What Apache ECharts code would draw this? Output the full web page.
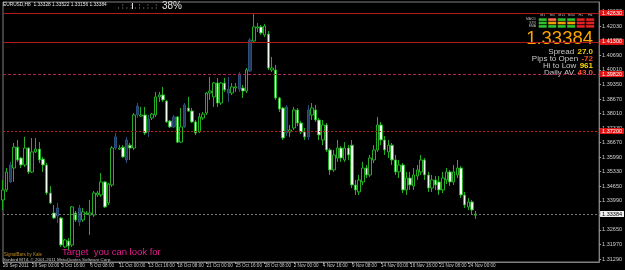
<!DOCTYPE html>
<html><head><meta charset="utf-8">
<script src="https://cdn.jsdelivr.net/npm/echarts@6/dist/echarts.min.js"></script>
<style>html,body{margin:0;padding:0;background:#000;}#c{width:625px;height:270px;}</style>
</head><body><div id="c"></div>
<script>
// ---- data (EURUSD, H8) ----
const tickLabels = ["26 Sep 2011","29 Sep 00:00","3 Oct 16:00","6 Oct 08:00","11 Oct 00:00","13 Oct 16:00","18 Oct 08:00","21 Oct 00:00","25 Oct 16:00","28 Oct 08:00","2 Nov 00:00","4 Nov 16:00","9 Nov 08:00","14 Nov 00:00","16 Nov 16:00","21 Nov 08:00","24 Nov 00:00"];
const opens = [
1.3403,1.3449,1.3486,1.3550,1.3646,1.3596,1.3564,1.3642,1.3532,1.3624,
1.3637,1.3591,1.3564,1.3435,1.3343,1.3329,1.3320,1.3187,1.3214,1.3196,
1.3343,1.3302,1.3311,1.3338,1.3334,1.3334,1.3426,1.3426,1.3486,1.3389,
1.3472,1.3642,1.3637,1.3646,1.3587,1.3655,1.3642,1.3794,1.3789,1.3794,
1.3716,1.3780,1.3794,1.3877,1.3886,1.3858,1.3766,1.3739,1.3785,1.3669,
1.3739,1.3826,1.3812,1.3762,1.3716,1.3780,1.3803,1.3895,1.3877,1.3941,
1.3849,1.3941,1.3913,1.3895,1.3918,1.3913,1.3918,1.3904,1.3996,1.4134,
1.4194,1.4199,1.4162,1.4166,1.4001,1.4001,1.3872,1.3826,1.3711,1.3716,
1.3734,1.3817,1.3757,1.3716,1.3693,1.3794,1.3817,1.3771,1.3679,1.3748,
1.3633,1.3541,1.3596,1.3642,1.3587,1.3642,1.3655,1.3472,1.3440,1.3486,
1.3550,1.3518,1.3587,1.3633,1.3748,1.3679,1.3624,1.3655,1.3587,1.3532,
1.3564,1.3449,1.3504,1.3467,1.3513,1.3532,1.3587,1.3518,1.3458,1.3495,
1.3486,1.3449,1.3495,1.3532,1.3486,1.3518,1.3550,1.3426,1.3371,1.3394,
1.33328];
const closes = [
1.3449,1.3532,1.3564,1.3646,1.3587,1.3564,1.3642,1.3532,1.3624,1.3637,
1.3587,1.3564,1.3435,1.3389,1.3320,1.3366,1.3196,1.3219,1.3191,1.3371,
1.3311,1.3366,1.3348,1.3343,1.3343,1.3435,1.3435,1.3486,1.3371,1.3476,
1.3642,1.3693,1.3642,1.3601,1.3679,1.3642,1.3794,1.3835,1.3794,1.3711,
1.3775,1.3798,1.3877,1.3886,1.3863,1.3762,1.3739,1.3785,1.3669,1.3739,
1.3840,1.3812,1.3762,1.3711,1.3785,1.3798,1.3895,1.3904,1.3941,1.3849,
1.3941,1.3909,1.3895,1.3923,1.3923,1.3982,1.3904,1.4001,1.4139,1.4199,
1.4199,1.4171,1.4203,1.4010,1.4010,1.3872,1.3821,1.3688,1.3831,1.3725,
1.3817,1.3757,1.3716,1.3693,1.3817,1.3826,1.3771,1.3702,1.3748,1.3633,
1.3541,1.3610,1.3642,1.3596,1.3642,1.3610,1.3472,1.3449,1.3495,1.3550,
1.3518,1.3596,1.3633,1.3748,1.3679,1.3633,1.3655,1.3587,1.3532,1.3564,
1.3449,1.3504,1.3472,1.3518,1.3541,1.3587,1.3518,1.3458,1.3495,1.3472,
1.3449,1.3504,1.3532,1.3486,1.3532,1.3550,1.3426,1.3380,1.3394,1.3357,
1.33384];
const highs = [
1.3495,1.3550,1.3578,1.3665,1.3679,1.3601,1.3693,1.3646,1.3688,1.3688,
1.3669,1.3601,1.3573,1.3467,1.3380,1.3389,1.3325,1.3224,1.3228,1.3375,
1.3352,1.3380,1.3366,1.3352,1.3403,1.3444,1.3444,1.3527,1.3490,1.3481,
1.3651,1.3711,1.3655,1.3655,1.3693,1.3665,1.3803,1.3849,1.3831,1.3831,
1.3794,1.3803,1.3900,1.3900,1.3923,1.3863,1.3771,1.3794,1.3789,1.3826,
1.3849,1.3877,1.3826,1.3771,1.3803,1.3808,1.3900,1.3969,1.3946,1.3964,
1.3946,1.3964,1.3969,1.3941,1.3941,1.3992,1.3932,1.4010,1.4148,1.4258,
1.4217,1.4208,1.4213,1.4180,1.4061,1.4024,1.3877,1.3831,1.3840,1.3748,
1.3831,1.3826,1.3766,1.3734,1.3840,1.3849,1.3840,1.3780,1.3771,1.3757,
1.3642,1.3633,1.3679,1.3651,1.3669,1.3655,1.3679,1.3495,1.3518,1.3578,
1.3564,1.3610,1.3655,1.3785,1.3762,1.3697,1.3679,1.3665,1.3610,1.3587,
1.3573,1.3532,1.3532,1.3550,1.3564,1.3610,1.3596,1.3532,1.3518,1.3513,
1.3513,1.3532,1.3550,1.3541,1.3564,1.3587,1.3559,1.3440,1.3412,1.3403,
1.33522];
const lows = [
1.3357,1.3440,1.3481,1.3486,1.3578,1.3550,1.3555,1.3523,1.3527,1.3619,
1.3573,1.3532,1.3426,1.3384,1.3315,1.3297,1.3187,1.3182,1.3173,1.3187,
1.3302,1.3283,1.3302,1.3334,1.3242,1.3325,1.3417,1.3417,1.3366,1.3380,
1.3463,1.3633,1.3633,1.3596,1.3573,1.3587,1.3633,1.3780,1.3785,1.3702,
1.3693,1.3771,1.3785,1.3854,1.3854,1.3757,1.3734,1.3734,1.3665,1.3665,
1.3734,1.3808,1.3757,1.3702,1.3711,1.3771,1.3794,1.3863,1.3831,1.3831,
1.3840,1.3900,1.3854,1.3886,1.3900,1.3900,1.3872,1.3895,1.3992,1.4125,
1.4176,1.4162,1.4153,1.4001,1.3992,1.3863,1.3808,1.3679,1.3697,1.3693,
1.3725,1.3743,1.3706,1.3679,1.3679,1.3771,1.3762,1.3679,1.3655,1.3624,
1.3518,1.3532,1.3578,1.3578,1.3578,1.3587,1.3458,1.3426,1.3426,1.3472,
1.3504,1.3509,1.3573,1.3624,1.3655,1.3610,1.3596,1.3564,1.3518,1.3504,
1.3435,1.3426,1.3449,1.3449,1.3495,1.3518,1.3495,1.3440,1.3440,1.3449,
1.3426,1.3435,1.3476,1.3467,1.3472,1.3504,1.3412,1.3366,1.3357,1.3338,
1.33156];
const shadedBars = [2,15,21,31,34,37,40,47,50,62,65,68,78,84];
const priceTicks = [1.31290,1.31970,1.32650,1.33330,1.33990,1.34650,1.35330,1.35990,1.36670,1.37330,1.38010,1.38670,1.39350,1.40010,1.40690,1.41350,1.42030,1.42690];
const levels = [1.42630,1.41300,1.39820,1.37200];
const lastPrice = 1.33384;
const totalSlots = 165;

// ---- build ----
const slots = Array.from({length: totalSlots}, (_, i) => String(i));
const shadedSet = new Set(shadedBars);
const candles = opens.map((o, i) => {
  const item = {value: [o, closes[i], lows[i], highs[i]]};
  if (shadedSet.has(i)) item.itemStyle = {color:'#203a60', color0:'#203a60', borderColor:'#2c4f7c', borderColor0:'#2c4f7c'};
  return item;
});
const showTick = (i) => i % 8 === 0 && (i / 8) < tickLabels.length;

const levelStyles = [
  {color:'#b01c1c', type:'solid'},
  {color:'#b01c1c', type:'solid'},
  {color:'#b0205a', type:[3,2]},
  {color:'#c02020', type:[2,2]}
];
const markData = levels.map((v, k) => ({
  yAxis: v,
  lineStyle: {color: levelStyles[k].color, type: levelStyles[k].type, width: 1},
  label: {show:true, position:'end', formatter: v.toFixed(5), backgroundColor:'#e41414', color:'#fff', fontSize:5.5, fontFamily:'Liberation Sans', padding:[0,2], distance:1}
}));
markData.push({
  yAxis: lastPrice,
  lineStyle: {color:'#7a7a7a', type:[2,2], width:1},
  label: {show:true, position:'end', formatter: lastPrice.toFixed(5), backgroundColor:'#f0f0f0', color:'#000', fontSize:5.5, fontFamily:'Liberation Sans', padding:[0,2], distance:1}
});

// panel
const tfNames = ['M1','M5','M15','M30','H1','H4'];
const rowNames = ['MACD','STR','EMA'];
const G='#2fc22f', R='#e42020', S='#ff6a50', O='#f0a000';
const panelColors = [[G,S,G,G,R,R],[G,O,O,O,R,R],[G,G,G,G,R,R]];
const graphics = [];
graphics.push({type:'text', x:3, y:5, style:{text:'EURUSD,H8  1.33328 1.33522 1.33156 1.33384', fill:'#e8e8e8', fontSize:4.8, fontFamily:'Liberation Sans', verticalAlign:'middle'}});
for (let k = 0; k < 10; k++) {
  graphics.push({type:'rect', shape:{x:118 + k*4.2, y:7.5, width:1, height:1}, style:{fill:'#9a9a9a'}});
  if (k % 2 === 1) graphics.push({type:'rect', shape:{x:118 + k*4.2, y:4.5, width:1, height:1}, style:{fill:'#9a9a9a'}});
}
graphics.push({type:'rect', shape:{x:132, y:3, width:1, height:6}, style:{fill:'#dcdcdc'}});
graphics.push({type:'text', x:162, y:6.5, style:{text:'38%', fill:'#e4e4e4', fontSize:10, fontFamily:'Liberation Sans', verticalAlign:'middle'}});
tfNames.forEach((t, c) => {
  graphics.push({type:'text', x:542.7 + c*9.5, y:15, style:{text:t, fill:'#bdbdbd', fontSize:3.6, fontFamily:'Liberation Sans', align:'center', verticalAlign:'middle'}});
});
rowNames.forEach((t, r) => {
  graphics.push({type:'text', x:536, y:19.5 + r*3.4, style:{text:t, fill:'#bdbdbd', fontSize:3.4, fontFamily:'Liberation Sans', align:'right', verticalAlign:'middle'}});
  panelColors[r].forEach((col, c) => {
    graphics.push({type:'rect', shape:{x:538.7 + c*9.5, y:18.3 + r*3.4, width:8, height:2.6}, style:{fill:col}});
  });
});
graphics.push({type:'text', x:593, y:39, style:{text:'1.33384', fill:'#ffa400', fontSize:18.5, fontFamily:'Liberation Sans', align:'right', verticalAlign:'middle'}});
const statRows = [
  ['Spread','27.0','#f0d000'],
  ['Pips to Open','-72','#ff4a1a'],
  ['Hi to Low','961','#ffd400'],
  ['Daily AV','43.0','#ff5a28']
];
statRows.forEach((r, k) => {
  graphics.push({type:'text', x:593, y:51.7 + k*7, style:{text:'{l|' + r[0] + '} {v|' + r[1] + '}', align:'right', verticalAlign:'middle',
    rich:{l:{fill:'#c8c8c8', fontSize:8, fontFamily:'Liberation Sans'}, v:{fill:r[2], fontSize:8, fontWeight:'bold', fontFamily:'Liberation Sans'}}}});
});
graphics.push({type:'text', x:62, y:252, style:{text:'Target  you can look for', fill:'#e0208c', fontSize:9.5, fontFamily:'Liberation Sans', verticalAlign:'middle'}});
graphics.push({type:'text', x:4, y:254.5, style:{text:'SignalBars by Kale', fill:'#c08a20', fontSize:4.5, fontFamily:'Liberation Sans', verticalAlign:'middle'}});
graphics.push({type:'text', x:3, y:259.3, style:{text:'Sunbird MT4, \u00a9 2001-2011 MetaQuotes Software Corp.', fill:'#c8c8c8', fontSize:4.4, fontFamily:'Liberation Sans', verticalAlign:'middle'}});

const chart = echarts.init(document.getElementById('c'), null, {renderer:'canvas'});
chart.setOption({
  backgroundColor:'#000000',
  animation:false,
  grid:{left:1, right:18, top:2, bottom:8, show:true, borderColor:'#808080', borderWidth:1},
  xAxis:{
    type:'category', data:slots, boundaryGap:false,
    axisLine:{show:true, lineStyle:{color:'#808080', width:1}},
    axisTick:{show:true, interval:(i)=>showTick(i), length:2, lineStyle:{color:'#a0a0a0'}},
    axisLabel:{interval:(i)=>showTick(i), formatter:(v, i)=>tickLabels[i/8] || '', align:'left', fontSize:4.6, fontFamily:'Liberation Sans', color:'#c8c8c8', margin:1},
    splitLine:{show:false}
  },
  yAxis:{
    type:'value', position:'right', min:1.31176, max:1.43136,
    axisLine:{show:true, lineStyle:{color:'#808080', width:1}},
    axisTick:{show:true, customValues:priceTicks, length:2, lineStyle:{color:'#a0a0a0'}},
    axisLabel:{customValues:priceTicks, formatter:(v)=>v.toFixed(5), fontSize:5.5, fontFamily:'Liberation Sans', color:'#d0d0d0', margin:3},
    splitLine:{show:false}
  },
  series:[{
    type:'candlestick', data:candles, barWidth:3,
    itemStyle:{color:'#000000', color0:'#f2fff2', borderColor:'#22b022', borderColor0:'#22b022', borderWidth:1},
    markLine:{symbol:['none','none'], silent:true, animation:false, precision:5, data:markData}
  }],
  graphic:graphics
});
</script></body></html>
